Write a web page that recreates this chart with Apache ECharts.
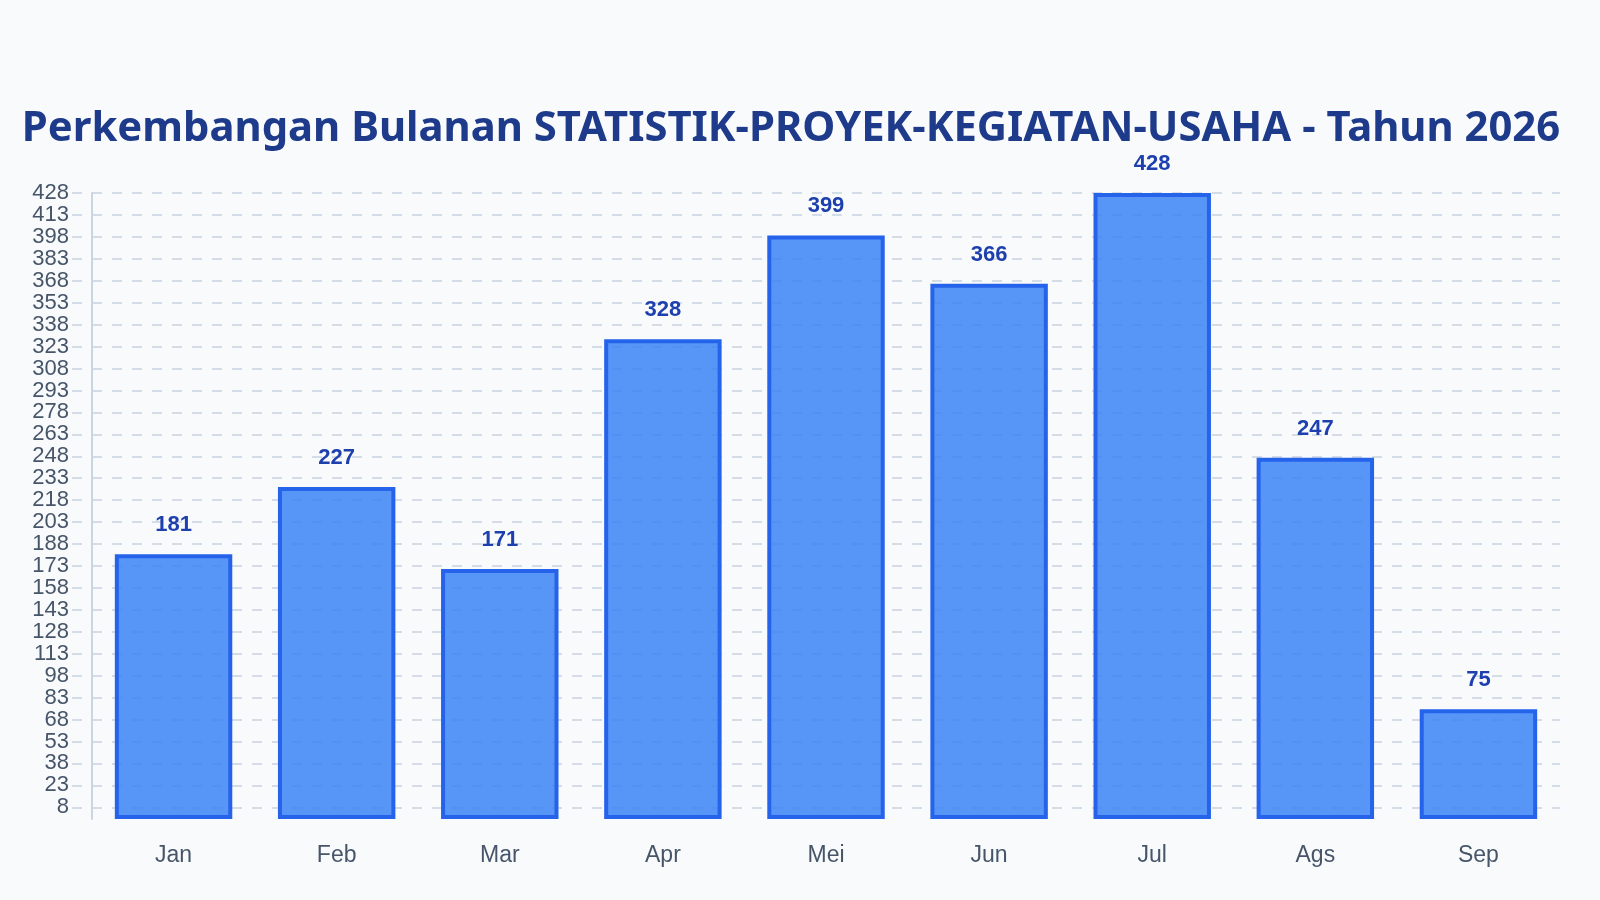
<!DOCTYPE html>
<html>
<head>
    <meta charset="utf-8">
    <script src="https://cdn.jsdelivr.net/npm/echarts@6/dist/echarts.min.js"></script>
    <style>
        html, body { margin: 0; padding: 0; background: #f8fafc; }
        #main { width: 1600px; height: 900px; }
    </style>
</head>
<body>
    <div id="main"></div>
<script type="text/javascript">
    // data
    var months = ['Jan', 'Feb', 'Mar', 'Apr', 'Mei', 'Jun', 'Jul', 'Ags', 'Sep'];
    var values = [181, 227, 171, 328, 399, 366, 428, 247, 75];
    var yTicks = [8, 23, 38, 53, 68, 83, 98, 113, 128, 143, 158, 173, 188, 203, 218,
                  233, 248, 263, 278, 293, 308, 323, 338, 353, 368, 383, 398, 413, 428];
    var yMin = 0;
    var yMax = 428;

    var myChart = echarts.init(document.getElementById('main'));

    var option = {
        backgroundColor: '#f8fafc',
        animation: false,
        title: {
            text: 'Perkembangan Bulanan STATISTIK-PROYEK-KEGIATAN-USAHA - Tahun 2026',
            left: 786,
            textAlign: 'center',
            top: 103,
            textStyle: {
                fontFamily: 'Noto Sans',
                fontWeight: 'bold',
                fontSize: 41.8,
                color: '#1e3a8a'
            }
        },
        grid: {
            left: 92,
            right: 40,
            top: 193,
            bottom: 81
        },
        xAxis: {
            type: 'category',
            data: months,
            axisLine: { show: false },
            axisTick: { show: false },
            axisLabel: {
                margin: 25,
                fontFamily: 'Liberation Sans',
                fontSize: 23,
                color: '#475569'
            }
        },
        yAxis: {
            type: 'value',
            min: yMin,
            max: yMax,
            axisLine: {
                show: true,
                lineStyle: { color: '#cbd5e1', width: 2 }
            },
            axisTick: {
                show: true,
                length: 20,
                customValues: yTicks,
                lineStyle: { color: '#cbd5e1', width: 1.6, type: [10, 10], dashOffset: 10 }
            },
            axisLabel: {
                customValues: yTicks,
                margin: 23,
                fontFamily: 'Liberation Sans',
                fontSize: 22,
                color: '#475569'
            },
            splitLine: {
                show: true,
                lineStyle: { color: '#cbd5e1', width: 1.6, type: [10, 10] }
            }
        },
        series: [{
            type: 'bar',
            data: values,
            barWidth: '72%',
            itemStyle: {
                color: 'rgba(59,130,246,0.85)',
                borderColor: '#2563eb',
                borderWidth: 4
            },
            label: {
                show: true,
                position: 'top',
                distance: 18,
                fontFamily: 'Liberation Sans',
                fontWeight: 'bold',
                fontSize: 22,
                color: '#1e40af'
            }
        }]
    };

    myChart.setOption(option);
</script>
</body>
</html>
